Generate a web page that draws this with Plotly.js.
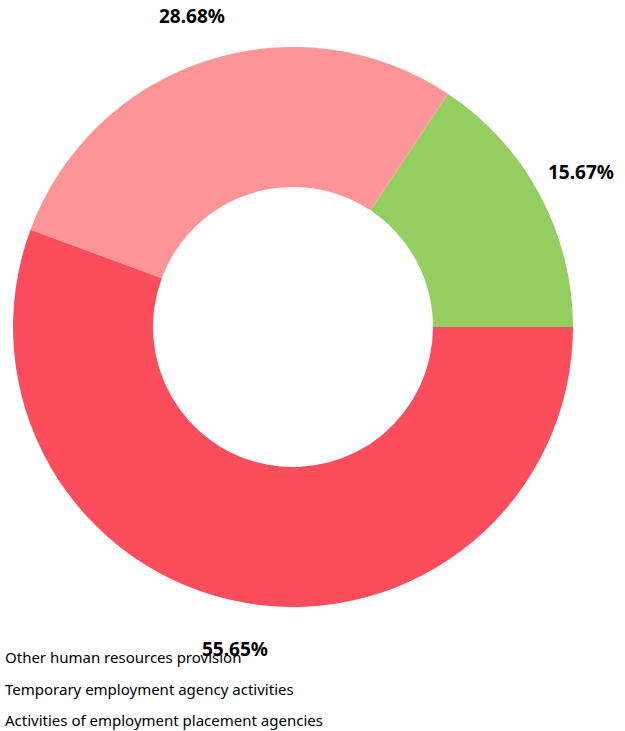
<!DOCTYPE html>
<html><head><meta charset="utf-8">
<script src="https://cdn.plot.ly/plotly-3.0.1.min.js"></script>
<style>body{margin:0;padding:0;background:#fff}#chart{width:625px;height:731px}</style>
</head><body><div id="chart"></div>
<script>
const labels = ["Other human resources provision", "Temporary employment agency activities", "Activities of employment placement agencies"];
const shares = [15.67, 28.68, 55.65];
const sliceColors = ["#94CD60", "#FD9598", "#FC4D5C"];

const W = 625, H = 731;
const FONT = "Noto Sans, Open Sans, sans-serif";
const legendAnn = labels.map((t, i) => ({
  text: t, xref: "paper", yref: "paper", x: 3/W, y: (H - 657 - i*31.5)/H,
  xanchor: "left", yanchor: "middle", showarrow: false,
  font: {family: FONT, size: 15, color: "#000"}
}));

const total = shares.reduce((a, b) => a + b, 0);
// Plotly's counterclockwise mode puts the first slice clockwise of the start line;
// shift so the first slice begins at 3 o'clock and runs counterclockwise.
const rot = 90 - shares[0] / total * 360;

// pie geometry (pixels)
const domX = [13, 573], domY = [47, 607];
const cx = (domX[0] + domX[1]) / 2, cy = (domY[0] + domY[1]) / 2;
const labelR = 327;
let cum = 0;
const valueAnn = shares.map(v => {
  const mid = (cum + v / 2) / total * 2 * Math.PI;
  cum += v;
  return {
    text: "<b>" + v.toFixed(2) + "%</b>", xref: "paper", yref: "paper",
    x: (cx + labelR * Math.cos(mid)) / W, y: (H - (cy - labelR * Math.sin(mid))) / H,
    xanchor: "center", yanchor: "middle", showarrow: false,
    font: {family: FONT, size: 19, color: "#000"}
  };
});

const data = [{
  type: "pie",
  labels: labels,
  values: shares,
  hole: 0.5,
  sort: false,
  direction: "counterclockwise",
  rotation: rot,
  marker: {colors: sliceColors, line: {width: 0}},
  textinfo: "none",
  domain: {x: [domX[0]/W, domX[1]/W], y: [(H - domY[1])/H, (H - domY[0])/H]},
  showlegend: false,
  hoverinfo: "label+percent"
}];

const layout = {
  width: W, height: H,
  margin: {l: 0, r: 0, t: 0, b: 0},
  paper_bgcolor: "#fff",
  showlegend: false,
  annotations: legendAnn.concat(valueAnn)
};
Plotly.newPlot("chart", data, layout, {displayModeBar: false, staticPlot: true});
</script></body></html>
